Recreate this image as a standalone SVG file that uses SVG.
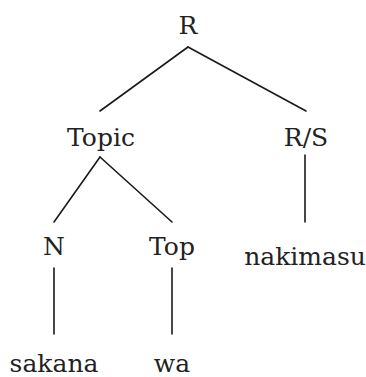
<svg xmlns="http://www.w3.org/2000/svg" width="366" height="377" viewBox="0 0 366 377">
<style>
.e line{stroke:#1a1a1a;stroke-width:1.6;stroke-linecap:round}
</style>
<rect width="366" height="377" fill="#fff"/>
<g class="e" id="edges">
<line x1="188" y1="47" x2="100" y2="111"/>
<line x1="188" y1="47" x2="306" y2="111"/>
<line x1="100" y1="157" x2="54" y2="222"/>
<line x1="100" y1="157" x2="172" y2="222"/>
<line x1="305" y1="155" x2="305" y2="222"/>
<line x1="54" y1="268" x2="54" y2="334"/>
<line x1="172" y1="268" x2="172" y2="334"/>
</g>
<g font-family="DejaVu Serif, serif" font-size="25" fill="#222" text-anchor="middle">
<g id="R"><text x="188" y="34">R</text></g>
<g id="Topic"><text x="101" y="146">Topic</text></g>
<g id="RS"><text x="306" y="146">R/S</text></g>
<g id="N"><text x="54" y="255">N</text></g>
<g id="Top"><text x="172" y="255">Top</text></g>
<g id="nakimasu"><text x="305" y="265">nakimasu</text></g>
<g id="sakana"><text x="54" y="372">sakana</text></g>
<g id="wa"><text x="172" y="372">wa</text></g>
</g>
</svg>
